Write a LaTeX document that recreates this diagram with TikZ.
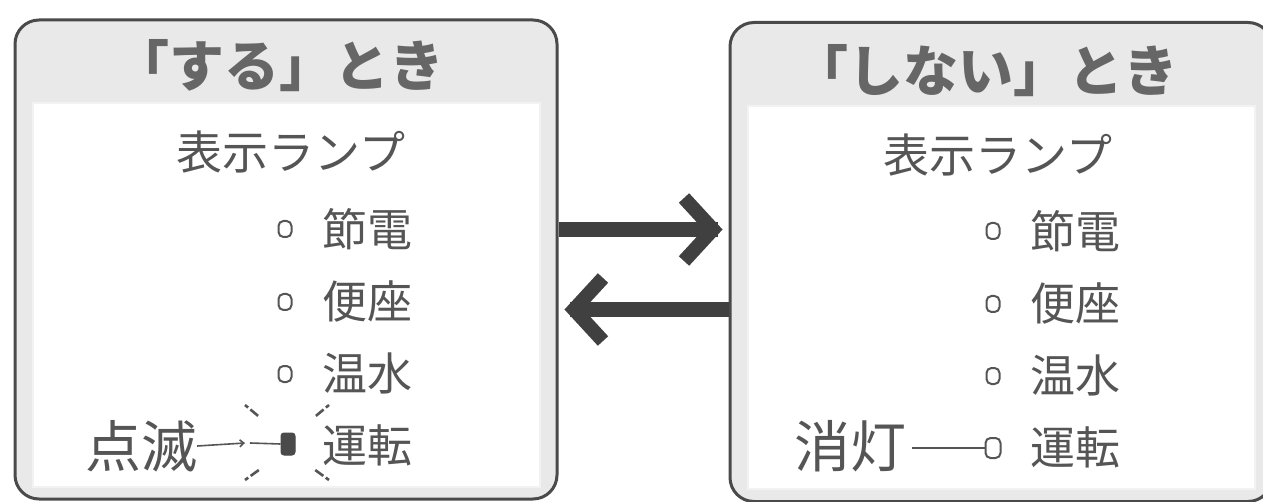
\documentclass[tikz,border=0pt]{standalone}
\usepackage{fontspec}
\setmainfont{Noto Sans CJK JP}
\usetikzlibrary{arrows.meta}
\definecolor{bordercol}{HTML}{4A4A4A}
\definecolor{bandcol}{HTML}{E9E9E9}
\definecolor{txtcol}{HTML}{555555}
\definecolor{titlecol}{HTML}{666666}
\definecolor{arrowcol}{HTML}{404040}
\begin{document}
\begin{tikzpicture}[x=1pt,y=-1pt,
  box/.style={draw=bordercol, line width=3pt, rounded corners=24pt, fill=bandcol,
    minimum width=542pt, minimum height=479pt, inner sep=0pt},
  panel/.style={fill=white, draw=bandcol!60, line width=2pt},
  title/.style={inner sep=0pt, text=titlecol, font=\fontsize{55}{60}\selectfont\bfseries},
  head/.style={inner sep=0pt, text=txtcol, font=\fontsize{46}{50}\selectfont},
  item/.style={inner sep=0pt, anchor=west, text=txtcol, font=\fontsize{45}{50}\selectfont},
  side/.style={inner sep=0pt, text=txtcol, font=\fontsize{56}{60}\selectfont},
  lamp/.style={draw=txtcol, line width=2pt, rounded corners=5pt, minimum width=13pt, minimum height=16pt, inner sep=0pt},
  lampon/.style={fill=bordercol, draw=bordercol, line width=1pt, rounded corners=3pt, minimum width=14pt, minimum height=22pt, inner sep=0pt},
  ray/.style={draw=txtcol, line width=2.6pt, dash pattern=on 4pt off 3pt on 10pt off 20pt},
  thick arrow/.style={draw=arrowcol, line width=15pt},
  chev/.style={draw=arrowcol, line width=14pt, line join=miter},
  conn/.style={draw=txtcol, line width=1.6pt}
]
\useasboundingbox (0,0) rectangle (1263,502);
\fill[white] (0,0) rectangle (1263,502);

% boxes
\node[box] (L) at (286,259.5) {};
\node[box] (R) at (1001,262) {};
\fill[panel] (33,103) rectangle (540,487);
\fill[panel] (748,106) rectangle (1255,489);

% titles
\node[title] (Lt) at (279,66) {「する」とき};
\node[title] (Rt) at (986,71) {「しない」とき};
\node[head] (Lh) at (291,152) {表示ランプ};
\node[head] (Rh) at (998,155) {表示ランプ};

% left items
\node[lamp] (La) at (285,229) {};
\node[lamp] (Lb) at (285,302) {};
\node[lamp] (Lc) at (285,374) {};
\node[lampon] (Ld) at (288,444) {};
\node[item] (LA) at (322,229) {節電};
\node[item] (LB) at (322,301) {便座};
\node[item] (LC) at (322,373) {温水};
\node[item] (LD) at (322,445) {運転};
\node[side] (Ls) at (141,446) {点滅};
\coordinate (Lm) at (245,443);
\draw[conn,-{Straight Barb[length=4pt,width=7pt]}] (Ls.east) -- (Lm);
\draw[conn] ([xshift=5pt]Lm) -- (Ld.west);
\draw[ray] (Ld) ++(-43,-39) -- ++(18,15);
\draw[ray] (Ld) ++(41,-39) -- ++(-18,15);
\draw[ray] (Ld) ++(-43,36) -- ++(18,-13);
\draw[ray] (Ld) ++(41,36) -- ++(-18,-13);

% right items
\node[lamp] (Ra) at (993,231) {};
\node[lamp] (Rb) at (993,304) {};
\node[lamp] (Rc) at (993,376) {};
\node[lamp, minimum height=20pt, minimum width=15pt] (Rd) at (993,448) {};
\node[item] (RA) at (1030,231) {節電};
\node[item] (RB) at (1030,303) {便座};
\node[item] (RC) at (1030,375) {温水};
\node[item] (RD) at (1030,447) {運転};
\node[side] (Rs) at (850,446) {消灯};
\draw[conn] (Rs.east) ++(6,2) -- (Rd.west);

% transfer arrows
\draw[thick arrow] (L.east |- 0,229.5) -- (718,229.5);
\draw[chev] (684,198) -- (713,229.5) -- (684,261);
\draw[thick arrow] (R.west |- 0,309.5) -- (570,309.5);
\draw[chev] (603,278) -- (574,309.5) -- (603,341);
\end{tikzpicture}
\end{document}
